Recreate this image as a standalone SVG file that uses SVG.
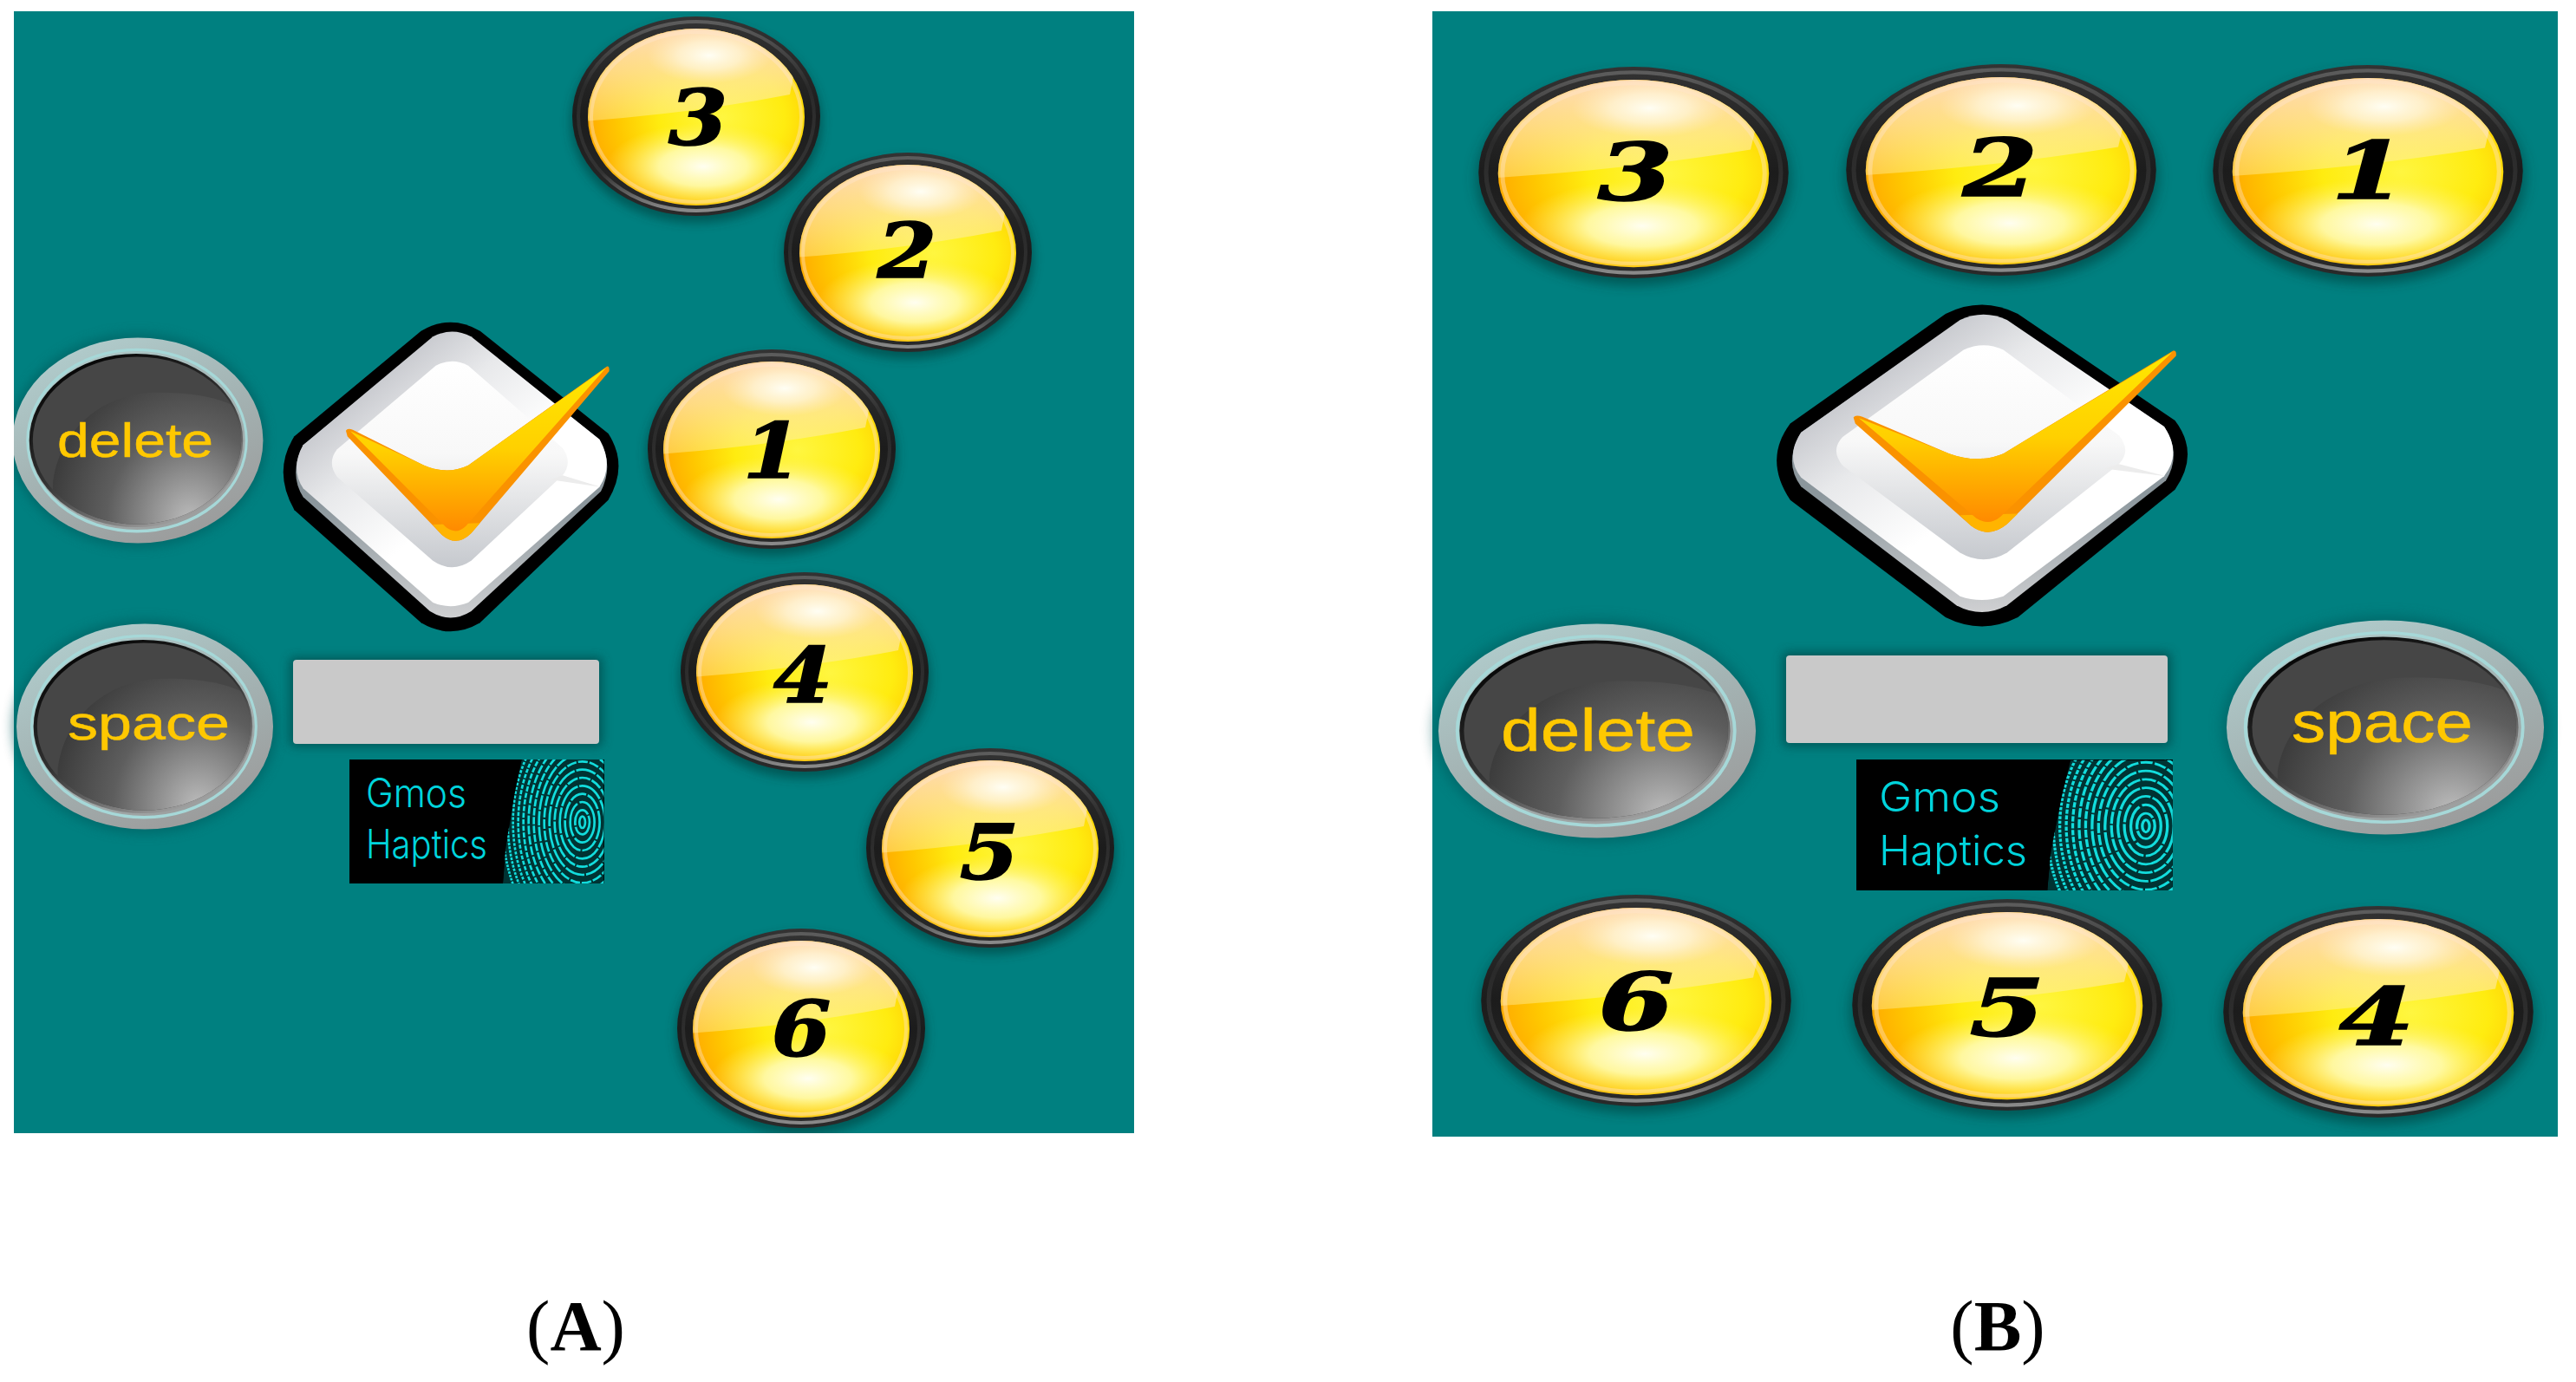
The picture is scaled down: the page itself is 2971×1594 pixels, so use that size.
<svg xmlns="http://www.w3.org/2000/svg" width="2971" height="1594" viewBox="0 0 2971 1594">
<style>
.panel{fill:#008080}
.digit{font-family:"DejaVu Serif","Liberation Serif",serif;font-weight:700;font-style:italic;font-size:88px;fill:#000;stroke:#000;stroke-width:1.5;text-anchor:middle}
.key{font-family:"Liberation Sans",Arial,sans-serif;fill:#ffc800;stroke:#ffc800;stroke-width:.5}
.logo{font-family:"Inter","Liberation Sans",Arial,sans-serif;font-weight:300;fill:#00d4dc}
.cap{font-family:"Liberation Serif","Times New Roman",serif;font-size:82px;fill:#000;text-anchor:middle}
.cap tspan{font-weight:700}
.fp ellipse{fill:none;stroke:#12dcdc;stroke-width:8}
</style>
<defs>
<filter id="blur" x="-30%" y="-30%" width="160%" height="160%"><feGaussianBlur stdDeviation="6"/></filter>
<linearGradient id="gRing" x1="0" y1="0" x2="0" y2="1"><stop offset="0" stop-color="#333"/><stop offset=".5" stop-color="#1c1c1c"/><stop offset="1" stop-color="#2a2a2a"/></linearGradient>
<linearGradient id="gRingHi" x1="0" y1="0" x2="0" y2="1"><stop offset="0" stop-color="#5c5c5c"/><stop offset=".35" stop-color="#2a2a2a"/><stop offset=".8" stop-color="#333"/><stop offset="1" stop-color="#8a8a8a"/></linearGradient>
<radialGradient id="gBase" cx=".62" cy=".5" r=".64"><stop offset="0" stop-color="#fff640"/><stop offset=".45" stop-color="#ffec10"/><stop offset=".75" stop-color="#ffc800"/><stop offset="1" stop-color="#ffa800"/></radialGradient>
<radialGradient id="gPale" cx=".5" cy=".5" r=".5"><stop offset="0" stop-color="#fffef0"/><stop offset=".45" stop-color="#fffbb0" stop-opacity=".9"/><stop offset="1" stop-color="#fff060" stop-opacity="0"/></radialGradient>
<linearGradient id="gGloss" x1="0" y1="0" x2="0" y2="1"><stop offset="0" stop-color="#ffdcc4" stop-opacity=".98"/><stop offset=".5" stop-color="#ffe4a8" stop-opacity=".78"/><stop offset="1" stop-color="#fff0a0" stop-opacity=".42"/></linearGradient>
<radialGradient id="gHot" cx=".5" cy=".5" r=".5"><stop offset="0" stop-color="#fffef4"/><stop offset=".5" stop-color="#fff6de" stop-opacity=".7"/><stop offset="1" stop-color="#ffecc8" stop-opacity="0"/></radialGradient>
<clipPath id="cInner"><ellipse cx="0" cy="1" rx="125" ry="102"/></clipPath>
<clipPath id="cFace"><ellipse cx="-1" cy="0" rx="119" ry="84"/></clipPath>
<clipPath id="cPanelA"><rect x="16" y="13" width="1292" height="1294"/></clipPath>
<linearGradient id="kRing" x1=".15" y1="0" x2=".7" y2="1"><stop offset="0" stop-color="#b2cfcf"/><stop offset=".5" stop-color="#a4b4b4"/><stop offset="1" stop-color="#9b9b9b"/></linearGradient>
<linearGradient id="kRim" x1=".2" y1="0" x2=".8" y2="1"><stop offset="0" stop-color="#000"/><stop offset=".5" stop-color="#333"/><stop offset="1" stop-color="#b0b0b0"/></linearGradient>
<radialGradient id="kGloss" gradientUnits="userSpaceOnUse" cx="60" cy="80" r="190"><stop offset="0" stop-color="#bcbcbc"/><stop offset=".5" stop-color="#5e5e5e"/><stop offset="1" stop-color="#2e2e2e"/></radialGradient>
<linearGradient id="dFace" gradientUnits="userSpaceOnUse" x1="250" y1="250" x2="800" y2="900"><stop offset="0" stop-color="#b4b6bd"/><stop offset=".4" stop-color="#e8e9eb"/><stop offset=".75" stop-color="#fff"/><stop offset="1" stop-color="#fff"/></linearGradient>
<linearGradient id="dInner" x1="0" y1="0" x2="0" y2="1"><stop offset="0" stop-color="#fff"/><stop offset=".45" stop-color="#f8f8f8"/><stop offset="1" stop-color="#c6c9ce"/></linearGradient>
<linearGradient id="dSide" x1="0" y1="0" x2="0" y2="1"><stop offset=".6" stop-color="#8b969c"/><stop offset="1" stop-color="#cfd0d2"/></linearGradient>
<linearGradient id="chk" x1="0" y1="0" x2="0" y2="1"><stop offset="0" stop-color="#ffe800"/><stop offset=".5" stop-color="#ffd000"/><stop offset="1" stop-color="#ff8a00"/></linearGradient>
<clipPath id="cFp"><path d="M665 47H950V478H600L610 350L640 170Z"/></clipPath>

<g id="goldBtn">
<ellipse cx="0" cy="7" rx="145" ry="116" fill="#00302f" opacity=".5" filter="url(#blur)"/>
<ellipse rx="143" ry="115" fill="url(#gRing)"/>
<ellipse rx="136" ry="109" fill="none" stroke="url(#gRingHi)" stroke-width="4"/>
<ellipse cy="1" rx="125" ry="102" fill="url(#gBase)"/>
<g clip-path="url(#cInner)">
<ellipse cx="8" cy="58" rx="112" ry="50" fill="url(#gPale)"/>
<path d="M-130 6Q0 -4 108 -25L125 -110H-130Z" fill="url(#gGloss)"/>
<ellipse cx="15" cy="-70" rx="72" ry="32" fill="url(#gHot)"/>
<ellipse cy="1" rx="121" ry="98" fill="none" stroke="#ffe6cf" stroke-width="4" opacity=".4"/>
</g>
</g>

<g id="greyBtn">
<ellipse rx="147" ry="107" fill="#005a5c" opacity=".6" filter="url(#blur)"/>
<ellipse rx="143" ry="103" fill="url(#kRing)"/>
<ellipse cx="-1" rx="125" ry="91" fill="none" stroke="#a6d8d8" stroke-width="3"/>
<ellipse cx="-2" rx="122" ry="87" fill="url(#kRim)"/>
<ellipse cx="-1" rx="119" ry="84" fill="#464646"/>
<g clip-path="url(#cFace)"><path d="M-97 42C-90 -10 -40 -48 20 -48C60 -48 90 -45 120 -30V100H-97Z" fill="url(#kGloss)"/></g>
</g>

<g id="check" transform="scale(.3333) translate(-661,-630)">
<path d="M560 125Q660 65 760 125L1195 480Q1265 590 1195 710L760 1135Q660 1195 560 1135L130 745Q55 610 130 490Z" fill="#000"/>
<path d="M600 150Q660 115 730 150L1165 500Q1215 590 1170 680L730 1095Q660 1140 590 1095L160 700Q110 620 160 520Z" fill="url(#dSide)"/>
<path d="M600 145Q665 110 730 145L1165 500Q1215 590 1165 665L720 1065Q660 1090 600 1065L160 670Q115 600 160 520Z" fill="url(#dFace)"/>
<path d="M610 245Q665 215 720 245L1040 530Q1075 580 1040 625L730 920Q665 965 600 920L275 630Q240 580 275 535Z" fill="url(#dInner)"/>
<path d="M1040 625L1170 665L1000 640Z" fill="#ececec"/>
<path d="M305 470Q310 460 330 468L570 590Q650 625 720 590L1190 248Q1200 245 1198 265L730 825Q680 875 630 830L310 490Z" fill="#fa9200"/>
<path d="M730 825Q680 875 630 830L600 795L760 790Z" fill="#ffb400"/>
<path d="M320 472L570 590Q650 625 720 590L1188 252L712 800Q680 832 645 805Z" fill="url(#chk)"/>
</g>

<g id="fingerprint" class="fp" clip-path="url(#cFp)" transform="translate(380,860) scale(.3333)">
<path d="M665 47H950V478H600L610 350L640 170Z" fill="#0aa" opacity=".3"/>
<ellipse cx="875" cy="265" rx="10" ry="20"/>
<ellipse cx="875" cy="265" rx="25" ry="42" stroke-dasharray="90 5"/>
<ellipse cx="875" cy="265" rx="42" ry="70" stroke-dasharray="120 8"/>
<ellipse cx="875" cy="265" rx="60" ry="98" stroke-dasharray="60 6"/>
<ellipse cx="875" cy="265" rx="78" ry="126" stroke-dasharray="90 5"/>
<ellipse cx="875" cy="265" rx="96" ry="154" stroke-dasharray="40 5"/>
<ellipse cx="875" cy="265" rx="114" ry="182" stroke-dasharray="70 6"/>
<ellipse cx="875" cy="265" rx="132" ry="210" stroke-dasharray="34 6"/>
<ellipse cx="875" cy="265" rx="150" ry="238" stroke-dasharray="50 5"/>
<ellipse cx="875" cy="265" rx="168" ry="266" stroke-dasharray="26 5"/>
<ellipse cx="875" cy="265" rx="186" ry="294" stroke-dasharray="30 6"/>
<ellipse cx="875" cy="265" rx="204" ry="322" stroke-dasharray="18 5"/>
<ellipse cx="875" cy="265" rx="222" ry="350" stroke-dasharray="14 5"/>
<ellipse cx="875" cy="265" rx="240" ry="378" stroke-dasharray="10 5"/>
<ellipse cx="875" cy="265" rx="258" ry="406" stroke-dasharray="9 4"/>
<ellipse cx="875" cy="265" rx="276" ry="434" stroke-dasharray="8 4"/>
</g>
</defs>

<rect width="2971" height="1594" fill="#fff"/>
<rect class="panel" x="16" y="13" width="1292" height="1294"/>
<rect class="panel" x="1652" y="13" width="1298" height="1298"/>

<g id="panel-a">
<g id="a-delete" clip-path="url(#cPanelA)"><use href="#greyBtn" transform="translate(159,508) scale(1.01,1.15)"/><text class="key" x="66" y="527" font-size="55" textLength="180" lengthAdjust="spacingAndGlyphs">delete</text></g>
<g id="a-space"><use href="#greyBtn" transform="translate(167,838) scale(1.035,1.15)"/><text class="key" x="78" y="853" font-size="56" textLength="187" lengthAdjust="spacingAndGlyphs">space</text></g>
<g id="a-check"><use href="#check" transform="translate(520,550) scale(1.02,1)"/></g>
<g id="a-input"><rect x="334" y="758" width="361" height="103" rx="5" fill="#003c3e" opacity=".6" filter="url(#blur)"/><rect x="338" y="761" width="353" height="97" rx="4" fill="#c9c9c9"/></g>
<g id="a-logo"><rect x="403" y="876" width="294" height="143" fill="#000"/><use href="#fingerprint"/><text class="logo" x="422" y="931" font-size="46" textLength="116" lengthAdjust="spacingAndGlyphs">Gmos</text><text class="logo" x="422" y="990" font-size="46" textLength="140" lengthAdjust="spacingAndGlyphs">Haptics</text></g>
<g id="a-3"><use href="#goldBtn" transform="translate(803,134)"/><text class="digit" transform="translate(805,167) scale(1.12,1)">3</text></g>
<g id="a-2"><use href="#goldBtn" transform="translate(1047,291)"/><text class="digit" transform="translate(1046,320) scale(1.12,1)">2</text></g>
<g id="a-1"><use href="#goldBtn" transform="translate(890,518)"/><text class="digit" transform="translate(891,551) scale(1.12,1)">1</text></g>
<g id="a-4"><use href="#goldBtn" transform="translate(928,775)"/><text class="digit" transform="translate(926,810) scale(1.12,1)">4</text></g>
<g id="a-5"><use href="#goldBtn" transform="translate(1142,978)"/><text class="digit" transform="translate(1141,1014) scale(1.12,1)">5</text></g>
<g id="a-6" clip-path="url(#cPanelA)"><use href="#goldBtn" transform="translate(924,1186)"/><text class="digit" transform="translate(924,1218) scale(1.12,1)">6</text></g>
</g>

<g id="panel-b">
<g id="b-3"><use href="#goldBtn" transform="translate(1884,199) scale(1.25,1.06)"/><text class="digit" transform="translate(1886,231) scale(1.42,1.05)">3</text></g>
<g id="b-2"><use href="#goldBtn" transform="translate(2308,196) scale(1.25,1.06)"/><text class="digit" transform="translate(2307,226) scale(1.42,1.05)">2</text></g>
<g id="b-1"><use href="#goldBtn" transform="translate(2731,197) scale(1.25,1.06)"/><text class="digit" transform="translate(2732,229) scale(1.42,1.05)">1</text></g>
<g id="b-check"><use href="#check" transform="translate(2286,537) scale(1.25,1.04)"/></g>
<g id="b-delete"><use href="#greyBtn" transform="translate(1842,843) scale(1.28,1.2)"/><text class="key" x="1731" y="866" font-size="68" textLength="224" lengthAdjust="spacingAndGlyphs">delete</text></g>
<g id="b-input"><rect x="2056" y="752" width="448" height="109" rx="5" fill="#003c3e" opacity=".6" filter="url(#blur)"/><rect x="2060" y="756" width="440" height="101" rx="4" fill="#c9c9c9"/></g>
<g id="b-space"><use href="#greyBtn" transform="translate(2751,839) scale(1.28,1.2)"/><text class="key" x="2643" y="856" font-size="66" textLength="209" lengthAdjust="spacingAndGlyphs">space</text></g>
<g id="b-logo"><rect x="2141" y="876" width="365" height="151" fill="#000"/><g transform="translate(2113,860) scale(1.241,1.05) translate(-380,-860)"><use href="#fingerprint"/></g><text class="logo" x="2167" y="936" font-size="48" textLength="140" lengthAdjust="spacingAndGlyphs">Gmos</text><text class="logo" x="2167" y="998" font-size="48" textLength="171" lengthAdjust="spacingAndGlyphs">Haptics</text></g>
<g id="b-6"><use href="#goldBtn" transform="translate(1887,1154) scale(1.25,1.06)"/><text class="digit" transform="translate(1887,1188) scale(1.42,1.05)">6</text></g>
<g id="b-5"><use href="#goldBtn" transform="translate(2315,1159) scale(1.25,1.06)"/><text class="digit" transform="translate(2315,1195) scale(1.42,1.05)">5</text></g>
<g id="b-4"><use href="#goldBtn" transform="translate(2743,1167) scale(1.25,1.06)"/><text class="digit" transform="translate(2741,1205) scale(1.42,1.05)">4</text></g>
</g>

<text id="label-a" class="cap" x="664" y="1557">(<tspan>A</tspan>)</text>
<text id="label-b" class="cap" x="2304" y="1557">(<tspan>B</tspan>)</text>
</svg>
